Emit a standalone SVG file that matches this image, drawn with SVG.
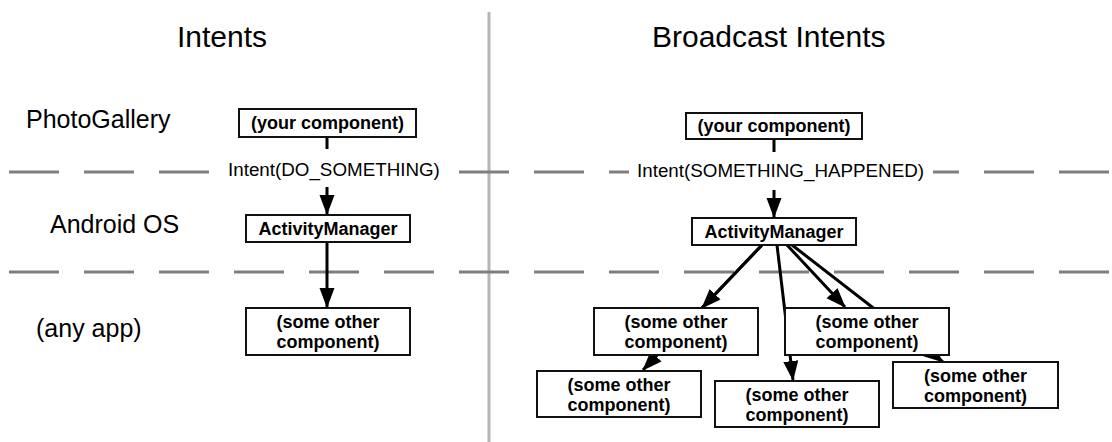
<svg xmlns="http://www.w3.org/2000/svg" width="1112" height="442" viewBox="0 0 1112 442">
  <style>
    .title { font-family: "Liberation Sans", Arial, sans-serif; font-size: 30px; fill: #000; }
    .lane { font-family: "Liberation Sans", Arial, sans-serif; font-size: 25px; fill: #000; }
    .intent { font-family: "Liberation Sans", Arial, sans-serif; font-size: 18.8px; fill: #000; }
    .box { fill: #fff; stroke: #111; stroke-width: 2; }
    .btext { font-family: "Liberation Sans", Arial, sans-serif; font-size: 18px; font-weight: bold; fill: #000; text-anchor: middle; }
    .dash { stroke: #7f7f7f; stroke-width: 3; stroke-dasharray: 50 25; fill: none; }
    .divider { stroke: #b5b5b5; stroke-width: 3; fill: none; }
    .conn { stroke: #000; stroke-width: 3; fill: none; }
    .arrow { stroke: #000; stroke-width: 3; fill: none; marker-end: url(#head); }
  </style>
  <defs>
    <marker id="head" markerUnits="userSpaceOnUse" markerWidth="20" markerHeight="16" viewBox="0 0 20 16" refX="19" refY="8" orient="auto">
      <path d="M0,0.5 L20,8 L0,15.5 z" fill="#000"/>
    </marker>
  </defs>
  <rect width="1112" height="442" fill="#fff"/>

  <g id="background">
    <line class="divider" x1="489" y1="12" x2="489" y2="442"/>
    <line class="dash" x1="9" y1="172" x2="1110" y2="172"/>
    <line class="dash" x1="9" y1="272" x2="1110" y2="272"/>
    <rect x="220" y="160" width="228" height="26" fill="#fff"/>
    <rect x="629" y="160" width="304" height="26" fill="#fff"/>
  </g>

  <g id="labels">
    <text class="title" x="177" y="47">Intents</text>
    <text class="title" x="652" y="47">Broadcast Intents</text>
    <text class="lane" x="26" y="128">PhotoGallery</text>
    <text class="lane" x="50" y="233">Android OS</text>
    <text class="lane" x="36" y="337">(any app)</text>
    <text class="intent" x="228" y="176">Intent(DO_SOMETHING)</text>
    <text class="intent" x="637" y="177">Intent(SOMETHING_HAPPENED)</text>
  </g>

  <g id="connectors">
    <line class="conn" x1="327" y1="137" x2="327" y2="149"/>
    <line class="arrow" x1="327" y1="187" x2="327" y2="214"/>
    <line class="arrow" x1="327" y1="242" x2="327" y2="307"/>
    <line class="conn" x1="774" y1="139" x2="774" y2="152"/>
    <line class="arrow" x1="774" y1="190" x2="774" y2="217"/>
    <line class="arrow" x1="762" y1="245" x2="643" y2="370"/>
    <line class="arrow" x1="762" y1="245" x2="702" y2="308"/>
    <line class="arrow" x1="777" y1="245" x2="793" y2="380"/>
    <line class="arrow" x1="787" y1="245" x2="845" y2="307"/>
    <line class="arrow" x1="792" y1="245" x2="943" y2="362"/>
  </g>

  <g id="left-your-component">
    <rect class="box" x="239" y="109" width="177" height="28"/>
    <text class="btext" x="327.5" y="129">(your component)</text>
  </g>
  <g id="left-activity-manager">
    <rect class="box" x="246" y="215" width="164" height="27"/>
    <text class="btext" x="328" y="235">ActivityManager</text>
  </g>
  <g id="left-other-component">
    <rect class="box" x="246" y="308" width="164" height="47"/>
    <text class="btext" x="328" y="328">(some other</text>
    <text class="btext" x="328" y="348">component)</text>
  </g>

  <g id="right-your-component">
    <rect class="box" x="686" y="113" width="176" height="26"/>
    <text class="btext" x="774" y="132">(your component)</text>
  </g>
  <g id="right-activity-manager">
    <rect class="box" x="692" y="218" width="164" height="27"/>
    <text class="btext" x="774" y="238">ActivityManager</text>
  </g>
  <g id="other-a">
    <rect class="box" x="594" y="308" width="164" height="47"/>
    <text class="btext" x="676" y="328">(some other</text>
    <text class="btext" x="676" y="348">component)</text>
  </g>
  <g id="other-b">
    <rect class="box" x="785" y="308" width="164" height="47"/>
    <text class="btext" x="867" y="328">(some other</text>
    <text class="btext" x="867" y="348">component)</text>
  </g>
  <g id="other-c">
    <rect class="box" x="537" y="371" width="164" height="46"/>
    <text class="btext" x="619" y="391">(some other</text>
    <text class="btext" x="619" y="411">component)</text>
  </g>
  <g id="other-d">
    <rect class="box" x="715" y="381" width="164" height="46"/>
    <text class="btext" x="797" y="401">(some other</text>
    <text class="btext" x="797" y="421">component)</text>
  </g>
  <g id="other-e">
    <rect class="box" x="893" y="362" width="165" height="46"/>
    <text class="btext" x="975.5" y="382">(some other</text>
    <text class="btext" x="975.5" y="402">component)</text>
  </g>
</svg>
